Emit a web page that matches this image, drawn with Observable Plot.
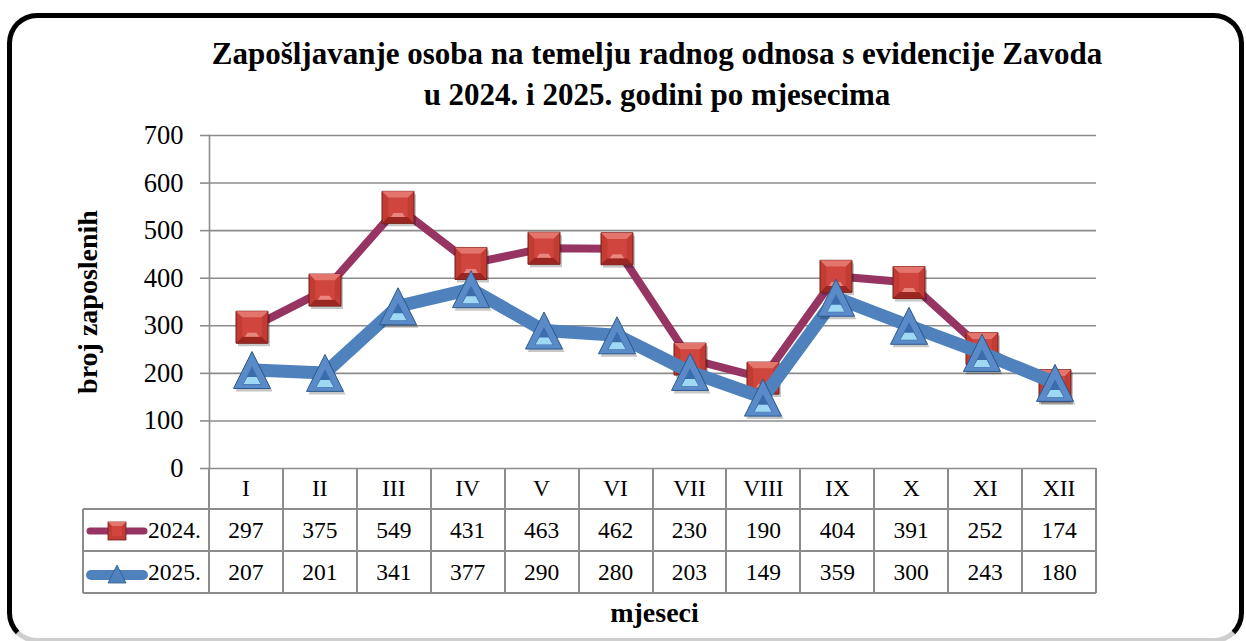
<!DOCTYPE html>
<html>
<head>
<meta charset="utf-8">
<script src="https://cdn.jsdelivr.net/npm/d3@7"></script>
<script src="https://cdn.jsdelivr.net/npm/@observablehq/plot@0.6"></script>
<style>
html, body { margin: 0; padding: 0; background: #fff; }
#wrap { position: relative; width: 1246px; height: 641px; overflow: hidden; font-family: "Liberation Serif", serif; color: #000; }
#box { position: absolute; left: 7px; top: 13px; width: 1237px; height: 630px; box-sizing: border-box;
  border: 5px solid #000; border-bottom-color: #cfcfcf; border-radius: 30px; }
#title { position: absolute; left: 157px; width: 1000px; top: 33px; text-align: center; font-weight: bold; font-size: 31px; line-height: 41px; white-space: nowrap; }
#ylabel { position: absolute; width: 300px; height: 30px; line-height: 30px; text-align: center; font-weight: bold; font-size: 28px; transform: rotate(-90deg); white-space: nowrap; }
#xlabel { position: absolute; width: 300px; text-align: center; font-weight: bold; font-size: 28px; line-height: 28px; white-space: nowrap; }
#chart { position: absolute; left: 0; top: 0; }
.hl, .vl { position: absolute; background: #8c8c8c; }
.cell { position: absolute; text-align: center; font-size: 23.5px; white-space: nowrap; }
</style>
</head>
<body>
<div id="wrap">
  <div id="box"></div>
  <div id="chart"></div>
  <div id="title"></div>
  <div id="ylabel"></div>
  <div id="xlabel"></div>
</div>
<script>
// ---- data ----
const titleLines = ["Zapošljavanje osoba na temelju radnog odnosa s evidencije Zavoda", "u 2024. i 2025. godini po mjesecima"];
const yTitle = "broj zaposlenih";
const xTitle = "mjeseci";
const months = ["I", "II", "III", "IV", "V", "VI", "VII", "VIII", "IX", "X", "XI", "XII"];
const values2024 = [297, 375, 549, 431, 463, 462, 230, 190, 404, 391, 252, 174];
const values2025 = [207, 201, 341, 377, 290, 280, 203, 149, 359, 300, 243, 180];
const seriesNames = ["2024.", "2025."];
const yTicks = [0, 100, 200, 300, 400, 500, 600, 700];

const rows = months.map((m, i) => ({month: m, v2024: values2024[i], v2025: values2025[i]}));

// ---- marker shapes (custom symbols, scaled by r) ----
const shape = (pts) => ({
  draw(ctx, size) {
    const h = Math.sqrt(size / Math.PI);
    ctx.moveTo(pts[0][0] * h, pts[0][1] * h);
    for (let k = 1; k < pts.length; ++k) ctx.lineTo(pts[k][0] * h, pts[k][1] * h);
    ctx.closePath();
  }
});
const sqOuter = shape([[-1, -1], [1, -1], [1, 1], [-1, 1]]);
const sqTop = shape([[-1, -1], [1, -1], [0.6, -0.6], [-0.6, -0.6]]);
const sqBottom = shape([[-1, 1], [1, 1], [0.6, 0.6], [-0.6, 0.6]]);
const sqInner = shape([[-0.6, -0.6], [0.6, -0.6], [0.6, 0.6], [-0.6, 0.6]]);
const sqGlow = shape([[-0.45, 0.6], [0.45, 0.6], [0.28, 0.35], [-0.28, 0.35]]);
const trOuter = shape([[0, -1], [1, 1], [-1, 1]]);
const trInner = shape([[0, -0.2], [0.5, 0.78], [-0.5, 0.78]]);
const trGlow = shape([[-0.46, 0.76], [0.46, 0.76], [0.25, 0.38], [-0.25, 0.38]]);

const c2024 = "#963462", c2025 = "#4f81bd";
const sqR = 16, trR = 18.5;

const plot = Plot.plot({
  width: 1246,
  height: 641,
  marginLeft: 209,
  marginRight: 150,
  marginTop: 135,
  marginBottom: 173,
  style: {fontFamily: '"Liberation Serif", serif', fontSize: "26.5px", background: "transparent", color: "#000", overflow: "visible"},
  x: {type: "band", domain: months, paddingInner: 0, paddingOuter: 0, axis: null},
  y: {domain: [0, 700]},
  marks: [
    Plot.gridY(yTicks, {stroke: "#8c8c8c", strokeOpacity: 1, strokeWidth: 1.6}),
    Plot.frame({anchor: "left", stroke: "#8c8c8c", strokeWidth: 1.6}),
    Plot.axisY(yTicks, {tickSize: 9, tickPadding: 17, stroke: "#8c8c8c", strokeWidth: 1.6, fill: "#000", label: null, fontSize: 26.5, tickFormat: d => String(d)}),
    // 2024 series
    Plot.line(rows, {x: "month", y: "v2024", stroke: c2024, strokeWidth: 8, strokeLinejoin: "round"}),
    Plot.dot(rows, {x: "month", y: "v2024", symbol: sqOuter, r: sqR, fill: "#000", fillOpacity: 0.22, dx: 2, dy: 3}),
    Plot.dot(rows, {x: "month", y: "v2024", symbol: sqOuter, r: sqR, fill: "#c23c34", stroke: "#6f1c18", strokeWidth: 1}),
    Plot.dot(rows, {x: "month", y: "v2024", symbol: sqTop, r: sqR, fill: "#e3756c"}),
    Plot.dot(rows, {x: "month", y: "v2024", symbol: sqBottom, r: sqR, fill: "#9a2621"}),
    Plot.dot(rows, {x: "month", y: "v2024", symbol: sqInner, r: sqR, fill: "#d0463e"}),
    Plot.dot(rows, {x: "month", y: "v2024", symbol: sqGlow, r: sqR, fill: "#e8857c"}),
    // 2025 series
    Plot.line(rows, {x: "month", y: "v2025", stroke: c2025, strokeWidth: 13, strokeLinejoin: "round"}),
    Plot.dot(rows, {x: "month", y: "v2025", symbol: trOuter, r: trR, fill: "#000", fillOpacity: 0.22, dx: 2, dy: 3}),
    Plot.dot(rows, {x: "month", y: "v2025", symbol: trOuter, r: trR, fill: "#5a8bc8", stroke: "#2d5a8e", strokeWidth: 1}),
    Plot.dot(rows, {x: "month", y: "v2025", symbol: trInner, r: trR, fill: "#3b6cab"}),
    Plot.dot(rows, {x: "month", y: "v2025", symbol: trGlow, r: trR, fill: "#9fd8f3"})
  ]
});
document.getElementById("chart").appendChild(plot);

// ---- titles ----
document.getElementById("title").innerHTML = titleLines.map(t => `<div>${t}</div>`).join("");
const yl = document.getElementById("ylabel");
yl.textContent = yTitle;
const xsc = plot.scale("x"), ysc = plot.scale("y");
const yTop = ysc.apply(700), y0 = ysc.apply(0);
yl.style.left = (88 - 150) + "px";
yl.style.top = ((yTop + y0) / 2 - 15) + "px";

// ---- data table under the plot ----
const wrap = document.getElementById("wrap");
const x0 = xsc.range[0], x1 = xsc.range[1];
const step = (x1 - x0) / months.length;
const keyW = 126;
const rowH = [41, 42, 42];
const rowTop = [y0, y0 + rowH[0], y0 + rowH[0] + rowH[1]];
const yEnd = rowTop[2] + rowH[2];
const lw = 2;
function line(cls, l, t, w, h) {
  const d = document.createElement("div");
  d.className = cls;
  Object.assign(d.style, {left: l + "px", top: t + "px", width: w + "px", height: h + "px"});
  wrap.appendChild(d);
}
// horizontal lines
line("hl", x0 - keyW, rowTop[1] - lw / 2, x1 - x0 + keyW, lw);
line("hl", x0 - keyW, rowTop[2] - lw / 2, x1 - x0 + keyW, lw);
line("hl", x0 - keyW, yEnd - lw / 2, x1 - x0 + keyW, lw);
// vertical lines
line("vl", x0 - keyW - lw / 2, rowTop[1], lw, yEnd - rowTop[1]);
for (let k = 0; k <= months.length; ++k) line("vl", x0 + k * step - lw / 2, y0, lw, yEnd - y0);

function cell(text, l, t, w, h, align) {
  const d = document.createElement("div");
  d.className = "cell";
  Object.assign(d.style, {left: l + "px", top: t + "px", width: w + "px", height: h + "px", lineHeight: h + "px"});
  if (align) d.style.textAlign = align;
  d.innerHTML = text;
  wrap.appendChild(d);
}
months.forEach((m, i) => {
  cell(m, x0 + i * step, rowTop[0], step, rowH[0]);
  cell(String(values2024[i]), x0 + i * step, rowTop[1], step, rowH[1]);
  cell(String(values2025[i]), x0 + i * step, rowTop[2], step, rowH[2]);
});
// legend keys
const key2024 = `<svg width="62" height="24" style="vertical-align:middle;margin-top:-4px">
  <line x1="4" y1="12" x2="58" y2="12" stroke="${c2024}" stroke-width="7" stroke-linecap="round"/>
  <rect x="22" y="3" width="18" height="18" fill="#c23c34" stroke="#6f1c18" stroke-width="0.8"/>
  <rect x="26" y="7" width="10" height="10" fill="#d0463e"/>
  <polygon points="22,3 40,3 36,7 26,7" fill="#e3756c"/></svg>`;
const key2025 = `<svg width="62" height="24" style="vertical-align:middle;margin-top:-4px">
  <line x1="5" y1="14" x2="57" y2="14" stroke="${c2025}" stroke-width="10" stroke-linecap="round"/>
  <polygon points="31,4 40,22 22,22" fill="#4f81bd" stroke="#2d5a8e" stroke-width="0.8"/></svg>`;
cell(key2024 + seriesNames[0], x0 - keyW + 3, rowTop[1], keyW - 6, rowH[1], "left");
cell(key2025 + seriesNames[1], x0 - keyW + 3, rowTop[2], keyW - 6, rowH[2], "left");

// x title
const xl = document.getElementById("xlabel");
xl.textContent = xTitle;
xl.style.left = ((x0 + x1) / 2 + 2 - 150) + "px";
xl.style.top = (yEnd + 6) + "px";
</script>
</body>
</html>
